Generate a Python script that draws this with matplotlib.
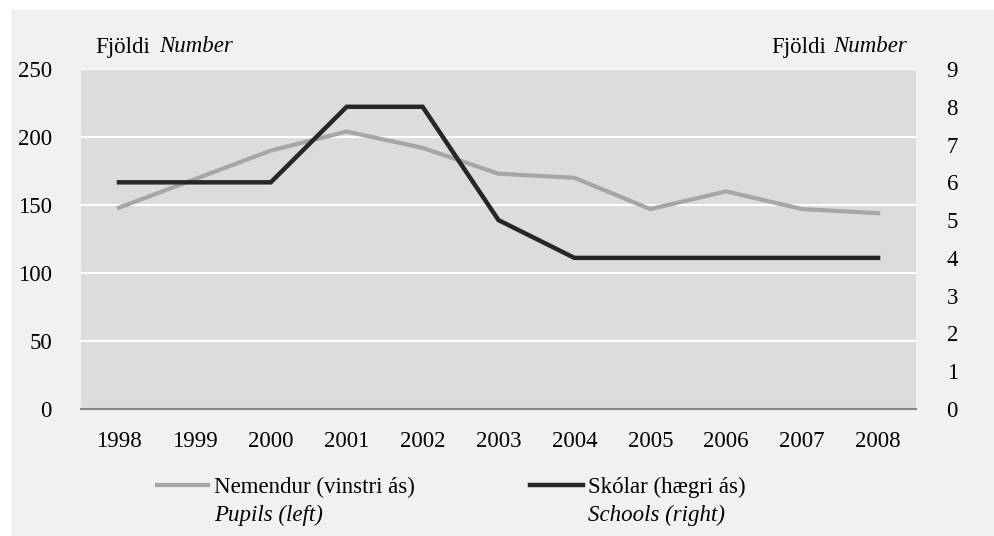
import matplotlib
matplotlib.use("Agg")
import matplotlib.pyplot as plt
from matplotlib.lines import Line2D
from matplotlib.patches import Rectangle
from matplotlib import font_manager as fm

years = ["1998", "1999", "2000", "2001", "2002", "2003", "2004", "2005", "2006", "2007", "2008"]
pupils = [148, 169, 190, 204, 192, 173, 170, 147, 160, 147, 144]
schools = [6, 6, 6, 8, 8, 5, 4, 4, 4, 4, 4]
left_ticks = [0, 50, 100, 150, 200, 250]
right_ticks = [0, 1, 2, 3, 4, 5, 6, 7, 8, 9]

plt.rcParams['font.family'] = ['Liberation Serif', 'DejaVu Serif']
FS = 16.5

# find a serif italic font file
ital = None
for fam in ['Liberation Serif', 'Noto Serif', 'DejaVu Serif']:
    for f in fm.fontManager.ttflist:
        if f.name == fam and f.style == 'italic' and f.weight in (400, 'normal', 'regular'):
            ital = f.fname
            break
    if ital:
        break
if ital:
    IFP = fm.FontProperties(fname=ital, size=FS)
else:
    IFP = fm.FontProperties(family=['Liberation Serif'], style='italic', size=FS)

W, H = 995, 536
fig = plt.figure(figsize=(W / 100, H / 100), dpi=100)
fig.patch.set_facecolor('white')
fig.add_artist(Rectangle((11 / W, 0), 1 - 11 / W, 1 - 10 / H, transform=fig.transFigure,
                         facecolor='#f0f1f1', edgecolor='none', zorder=-10))

left, right, top, bottom = 81, 916, 69, 409
ax = fig.add_axes([left / W, 1 - bottom / H, (right - left) / W, (bottom - top) / H])
ax.set_facecolor('#dcdcdc')
x = list(range(len(years)))
ax.plot(x, pupils, color='#a6a6a6', lw=3.0, solid_joinstyle='miter', zorder=3)
ax.set_xlim(-0.5, len(years) - 0.5)
ax.set_ylim(0, 250)
ax.set_yticks(left_ticks)
ax.set_yticklabels([str(t) for t in left_ticks])
ax.set_xticks(x)
ax.set_xticklabels(years)
ax.yaxis.grid(True, color='white', lw=1.5)
ax.set_axisbelow(True)
for s in ['top', 'left', 'right']:
    ax.spines[s].set_visible(False)
ax.spines['bottom'].set_color('#868686')
ax.spines['bottom'].set_linewidth(1.5)
ax.tick_params(axis='both', length=0, labelsize=FS, colors='black')
ax.tick_params(axis='y', pad=21)
ax.tick_params(axis='x', pad=16)

ax2 = ax.twinx()
ax2.plot(x, schools, color='#262626', lw=3.2, solid_joinstyle='miter', zorder=4)
ax2.set_ylim(0, 9)
ax2.set_yticks(right_ticks)
ax2.set_yticklabels([str(t) for t in right_ticks])
for s in ['top', 'left', 'right', 'bottom']:
    ax2.spines[s].set_visible(False)
ax2.tick_params(axis='y', length=0, labelsize=FS, pad=22, colors='black')
ax2.patch.set_visible(False)

# axis titles
fig.text(95 / W, 1 - 47 / H, "Fjöldi", fontsize=FS, ha='left', va='center')
fig.text(159 / W, 1 - 47 / H, "Number", fontproperties=IFP, ha='left', va='center')
fig.text(907 / W, 1 - 47 / H, "Number", fontproperties=IFP, ha='right', va='center')
fig.text(826 / W, 1 - 47 / H, "Fjöldi", fontsize=FS, ha='right', va='center')

# legend
fig.add_artist(Line2D([157 / W, 208 / W], [1 - 485 / H, 1 - 485 / H], transform=fig.transFigure,
                      color='#a6a6a6', lw=3.0))
fig.text(214 / W, 1 - 487 / H, "Nemendur (vinstri ás)", fontsize=FS, ha='left', va='center')
fig.text(214 / W, 1 - 515 / H, "Pupils (left)", fontproperties=IFP, ha='left', va='center')
fig.add_artist(Line2D([530 / W, 583 / W], [1 - 485 / H, 1 - 485 / H], transform=fig.transFigure,
                      color='#262626', lw=3.2))
fig.text(588 / W, 1 - 487 / H, "Skólar (hægri ás)", fontsize=FS, ha='left', va='center')
fig.text(588 / W, 1 - 515 / H, "Schools (right)", fontproperties=IFP, ha='left', va='center')

fig.savefig("out.png", dpi=100, facecolor=fig.get_facecolor())
